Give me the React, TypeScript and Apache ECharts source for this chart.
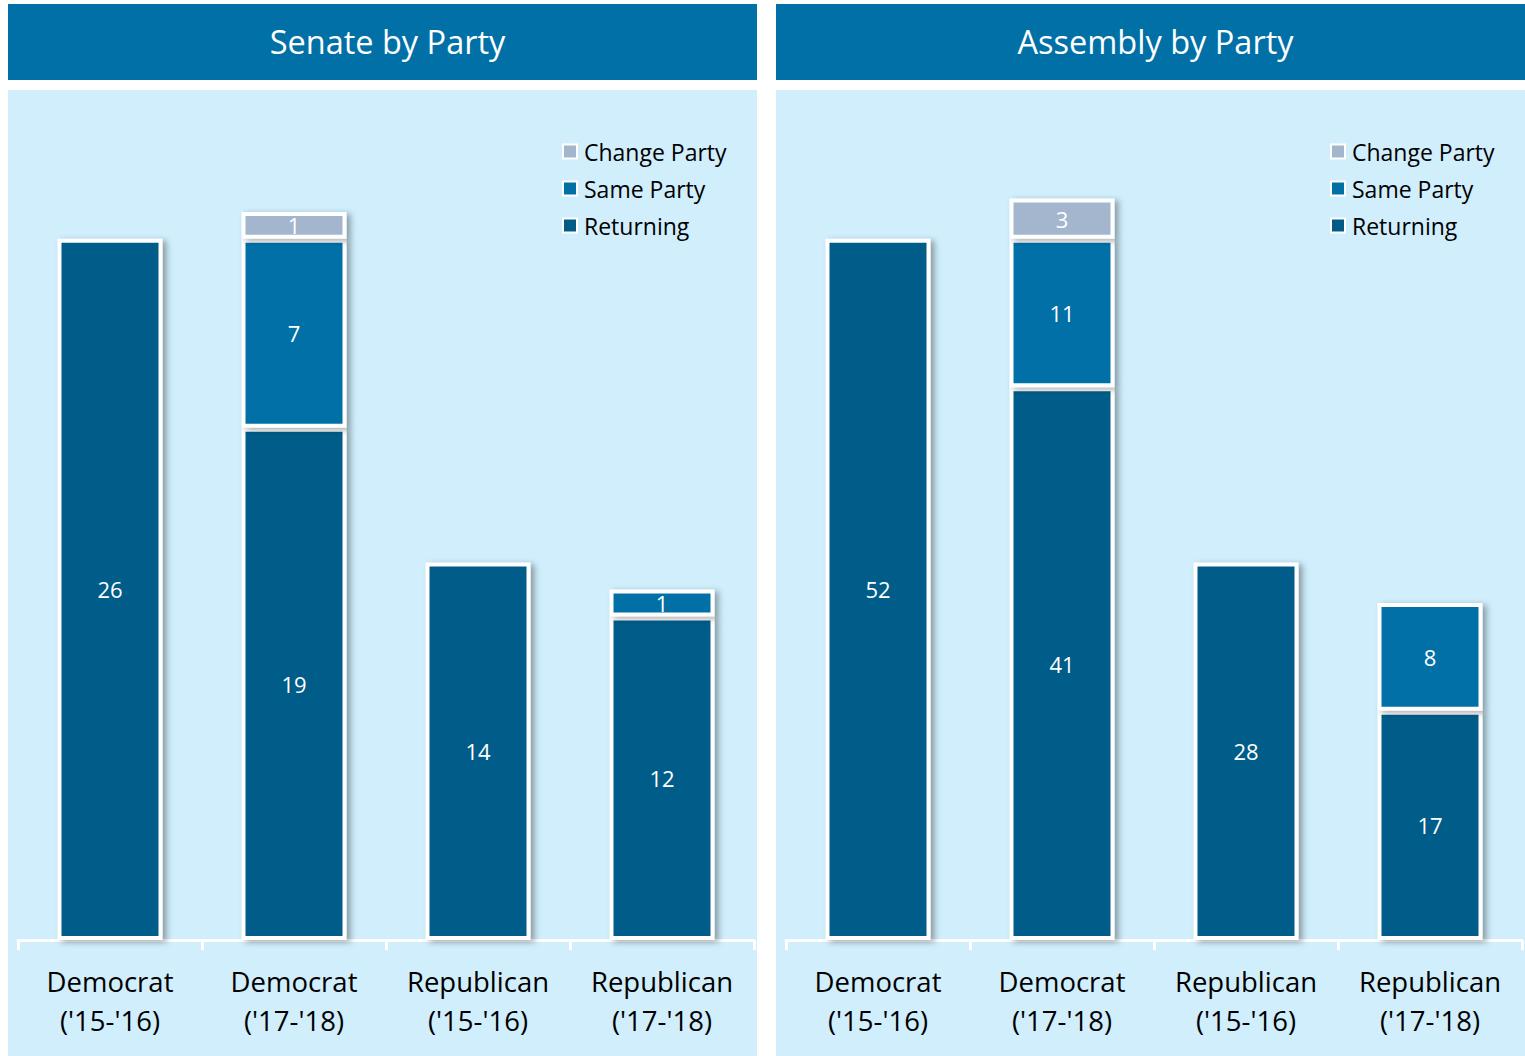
import React, { useEffect, useRef } from "react";
import * as echarts from "echarts";

const categories = ["Democrat\n('15-'16)", "Democrat\n('17-'18)", "Republican\n('15-'16)", "Republican\n('17-'18)"];
const seriesNames = ["Returning", "Same Party", "Change Party"];
const senateReturning = [26, 19, 14, 12];
const senateSame = [null, 7, null, 1];
const senateChange = [null, 1, null, null];
const assemblyReturning = [52, 41, 28, 17];
const assemblySame = [null, 11, null, 8];
const assemblyChange = [null, 3, null, null];
const titles = ["Senate by Party", "Assembly by Party"];

const COLORS = ["#015b88", "#0070a7", "#a3b6cd"];
const FONT = "Open Sans";

export default function App() {
  const ref = useRef<HTMLDivElement>(null);
  useEffect(() => {
    const chart = echarts.init(ref.current!, null, { renderer: "svg" });
    const panels = [
      { x: 8, gridLeft: 18, max: 30, data: [senateReturning, senateSame, senateChange] },
      { x: 776, gridLeft: 786, max: 60, data: [assemblyReturning, assemblySame, assemblyChange] },
    ];
    const series: any[] = [];
    panels.forEach((p, pi) => {
      p.data.forEach((d, si) => {
        series.push({
          type: "bar",
          name: seriesNames[si],
          xAxisIndex: pi,
          yAxisIndex: pi,
          stack: "s" + pi,
          data: d,
          barWidth: 105,
          itemStyle: {
            color: COLORS[si],
            borderColor: "#ffffff",
            borderWidth: 4,
            shadowColor: "rgba(0,0,0,0.35)",
            shadowBlur: 6,
            shadowOffsetX: 4,
            shadowOffsetY: 2,
          },
          label: {
            show: true,
            position: "inside",
            color: "#ffffff",
            fontSize: 22,
            fontFamily: FONT,
          },
        });
      });
    });
    chart.setOption({
      animation: false,
      graphic: panels.flatMap((p) => [
        { type: "rect", shape: { x: p.x, y: 4, width: 749, height: 76 }, style: { fill: "#0070a7" }, z: -10 },
        { type: "rect", shape: { x: p.x, y: 90, width: 749, height: 966 }, style: { fill: "#d0eefc" }, z: -10 },
      ]),
      title: panels.map((p, i) => ({
        text: titles[i],
        left: p.x + 374.5,
        top: 20,
        textAlign: "center",
        textStyle: { color: "#ffffff", fontSize: 32.5, fontWeight: "normal", fontFamily: FONT },
      })),
      legend: panels.map((p) => ({
        data: ["Change Party", "Same Party", "Returning"],
        orient: "vertical",
        left: p.gridLeft + 539,
        top: 135,
        icon: "rect",
        itemWidth: 14,
        itemHeight: 14,
        itemGap: 14,
        selectedMode: false,
        textStyle: { fontSize: 23, fontFamily: FONT, color: "#000000", padding: [0, 0, 0, 2] },
      })),
      grid: panels.map((p) => ({ left: p.gridLeft, width: 736, top: 131, bottom: 1056 - 940 })),
      xAxis: panels.map((_, i) => ({
        type: "category",
        gridIndex: i,
        data: categories,
        axisLine: { show: true, lineStyle: { color: "#ffffff", width: 3 } },
        axisTick: { show: true, lineStyle: { color: "#ffffff", width: 3 }, length: 10 },
        axisLabel: { fontSize: 27.5, lineHeight: 39, color: "#000000", fontFamily: FONT, margin: 22, interval: 0 },
      })),
      yAxis: panels.map((p, i) => ({
        type: "value",
        gridIndex: i,
        min: 0,
        max: p.max,
        show: false,
        splitLine: { show: false },
      })),
      series,
    });
    return () => chart.dispose();
  }, []);
  return <div ref={ref} style={{ position: "fixed", left: 0, top: 0, width: 1525, height: 1056, background: "#ffffff" }} />;
}
